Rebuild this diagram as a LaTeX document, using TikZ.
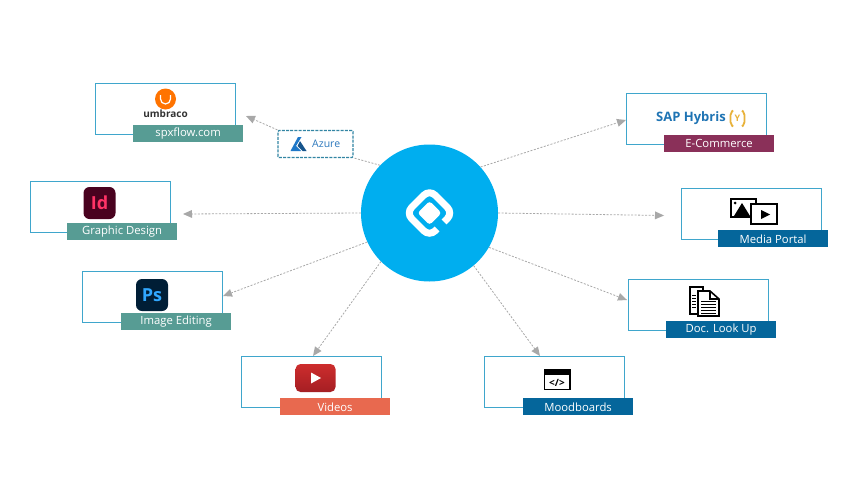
\documentclass[tikz,border=0pt]{standalone}
\usepackage{fontspec}
\setmainfont{Open Sans}
\usetikzlibrary{arrows.meta,positioning}
\definecolor{hubblue}{HTML}{00AEEF}
\definecolor{cardline}{HTML}{3FA6CC}
\definecolor{tagteal}{HTML}{579C94}
\definecolor{tagwine}{HTML}{8A3059}
\definecolor{tagblue}{HTML}{05669B}
\definecolor{tagcoral}{HTML}{E8694F}
\definecolor{linkgray}{HTML}{A8A8A8}
\definecolor{azureblue}{HTML}{1F78C8}
\definecolor{sapblue}{HTML}{1F74B4}
\definecolor{sapyellow}{HTML}{E8B23A}
\begin{document}
\begin{tikzpicture}[x=1pt,y=-1pt]
 \tikzset{cardbox/.style={
    draw=cardline,
    line width=1.1pt,
    fill=white,
    minimum width=140pt,
    minimum height=51pt,
    inner sep=0pt
  },
  tagbox/.style={
    fill=#1,
    text=white,
    font=\fontsize{11.3}{13}\selectfont,
    minimum width=110.5pt,
    minimum height=17pt,
    inner sep=0pt,
    anchor=south east
  },
  tagbox/.default=tagteal,
  link/.style={
    draw=linkgray,
    line width=0.8pt,
    dash pattern=on 2pt off 1.5pt,
    -{Triangle[length=9pt,width=8pt,fill=linkgray,line width=0pt]}
  },
  appicon/.style={
    rounded corners=6pt,
    minimum size=32pt,
    inner sep=0pt,
    font=\fontsize{18}{18}\selectfont\bfseries
  }
}
\useasboundingbox (0,0) rectangle (858,482);
% cards
\node[cardbox] (umbraco) at (165.5,109) {};
\node[cardbox] (design) at (100.5,207) {};
\node[cardbox] (editing) at (152.5,297) {};
\node[cardbox] (videos) at (311.5,382) {};
\node[cardbox] (hybris) at (696.5,119) {};
\node[cardbox] (media) at (751.5,214) {};
\node[cardbox] (lookup) at (698.5,305) {};
\node[cardbox] (mood) at (554.5,382) {};
% labels on the cards
\node[tagbox] (umbracotag) at ([shift={(7.5,7.5)}]umbraco.south east) {spxflow.com};
\node[tagbox] (designtag) at ([shift={(6.5,7.5)}]design.south east) {Graphic Design};
\node[tagbox] (editingtag) at ([shift={(8.5,7.5)}]editing.south east) {Image Editing};
\node[tagbox=tagcoral] (videostag) at ([shift={(8.5,7.5)}]videos.south east) {Videos};
\node[tagbox=tagwine] (hybristag) at ([shift={(7.5,7.5)}]hybris.south east) {E-Commerce};
\node[tagbox=tagblue] (mediatag) at ([shift={(6.5,7.5)}]media.south east) {Media Portal};
\node[tagbox=tagblue] (lookuptag) at ([shift={(7.5,7.5)}]lookup.south east) {Doc. Look Up};
\node[tagbox=tagblue] (moodtag) at ([shift={(8.5,7.5)}]mood.south east) {Moodboards};
% middle
\node[circle,fill=hubblue,minimum size=137pt,inner sep=0pt] (hub) at (429.5,213) {};
\node[draw=cardline!80!black,dash pattern=on 3pt off 1.2pt,line width=1.3pt,fill=white,rounded corners=1pt,
  minimum width=75pt,minimum height=27pt,inner sep=0pt] (azure) at (315.5,144) {};
\node[font=\fontsize{10.5}{12}\selectfont,text=azureblue!85!gray,anchor=west,inner sep=0pt] (azuretext) at (312,143.5) {Azure};
\fill[azureblue] (290.5,151) -- (298,137) -- (301.5,137) -- (296,146) -- (301,151) -- cycle;
\fill[azureblue!70!black] (300,141) -- (306.5,151) -- (302.5,151) -- (297.5,146) -- cycle;
% hub mark
\draw[white,line width=7pt,rounded corners=8pt]
  (437,229) -- (429.5,236.5) -- (406,213) -- (429.5,189.5) -- (453,213) -- (444,222);
\fill[white,rounded corners=3pt] (429.5,201) -- (441.5,213) -- (429.5,225) -- (417.5,213) -- cycle;
% free ends of the arrows
\coordinate (umbracotip) at (246,116);
\coordinate (designtip) at (183,214);
\coordinate (editingtip) at (223,296);
\coordinate (videostip) at (313,356);
\coordinate (hybristip) at (626,120);
\coordinate (mediatip) at (664,215.5);
\coordinate (lookuptip) at (627,300);
\coordinate (moodtip) at (540,356);
\draw[link,-] (hub.136) -- (azure.-20);
\draw[link] (azure.north west) -- (umbracotip);
\draw[link] (hub.180) -- (designtip);
\draw[link] (hub.205) -- (editingtip);
\draw[link] (hub.225) -- (videostip);
\draw[link] (hub.42) -- (hybristip);
\draw[link] (hub.0) -- (mediatip);
\draw[link] (hub.-30) -- (lookuptip);
\draw[link] (hub.-50) -- (moodtip);
% umbraco
\node[circle,fill=orange!90!red,minimum size=21pt,inner sep=0pt] (umbracologo) at (165.5,99) {};
\draw[white,line width=1.2pt] (160.5,95) -- (160.5,99) arc[start angle=180,end angle=0,radius=5pt,y radius=-5pt] -- (170.5,95);
\node[font=\fontsize{10}{11}\selectfont\bfseries,text=black!80,inner sep=0pt] (umbracotext) at (165.5,114) {umbraco};
% adobe
\node[appicon,fill={rgb,255:red,73;green,2;blue,31},text={rgb,255:red,255;green,51;blue,102}] (idlogo) at (99.5,203) {Id};
\node[appicon,fill={rgb,255:red,0;green,30;blue,54},text={rgb,255:red,49;green,168;blue,255}] (pslogo) at (152,295) {Ps};
% youtube
\node[rounded corners=5pt,minimum width=40pt,minimum height=28pt,inner sep=0pt,
  top color={rgb,255:red,205;green,45;blue,45},bottom color={rgb,255:red,165;green,30;blue,35}] (ytlogo) at (315.5,378) {};
\fill[white] (311,372.5) -- (321,378) -- (311,383.5) -- cycle;
% sap
\node[font=\fontsize{13}{14}\selectfont\bfseries,text=sapblue,anchor=west,inner sep=0pt] (saptext) at (656,118.5) {SAP Hybris};
\draw[sapyellow,line width=1.8pt,rounded corners=2pt] (733,110.5) -- (730.5,113) -- (730.5,124) -- (733,126.5);
\draw[sapyellow,line width=1.8pt,rounded corners=2pt] (742,110.5) -- (744.5,113) -- (744.5,124) -- (742,126.5);
\node[font=\fontsize{9}{10}\selectfont\bfseries,text=sapyellow,inner sep=0pt] (sapmark) at (737.5,118) {Y};
% media
\draw[black,line width=1.6pt,fill=white] (731,199) rectangle (756,217);
\fill[black] (734,216) -- (742,203) -- (750,216) -- cycle;
\fill[black] (735,203) circle (1.5pt);
\draw[black,line width=1.8pt,fill=white] (751,204) rectangle (777,224);
\fill[black] (761,210) -- (770,214.5) -- (761,219) -- cycle;
% document
\draw[black,line width=1.6pt,fill=white] (690,287) -- (703,287) -- (703,314) -- (690,314) -- cycle;
\draw[black,line width=1.6pt,fill=white] (698,291) -- (710,291) -- (719,299) -- (719,316) -- (698,316) -- cycle;
\draw[black,line width=1.2pt] (710,291) -- (710,299) -- (719,299);
\foreach \y in {301,304,307,310,313}
  \draw[black,line width=1pt] (701,\y) -- (716,\y);
\foreach \y in {295,298,301,304,307}
  \draw[black,line width=1pt] (692,\y) -- (696,\y);
% code window
\draw[black,line width=1.8pt,fill=white] (544.5,370) rectangle (570,389.5);
\fill[black] (544,369.5) rectangle (570.5,375);
\node[font=\fontsize{10}{10}\selectfont\bfseries,inner sep=0pt] (codetext) at (557,382.5) {</>};
\end{tikzpicture}
\end{document}
